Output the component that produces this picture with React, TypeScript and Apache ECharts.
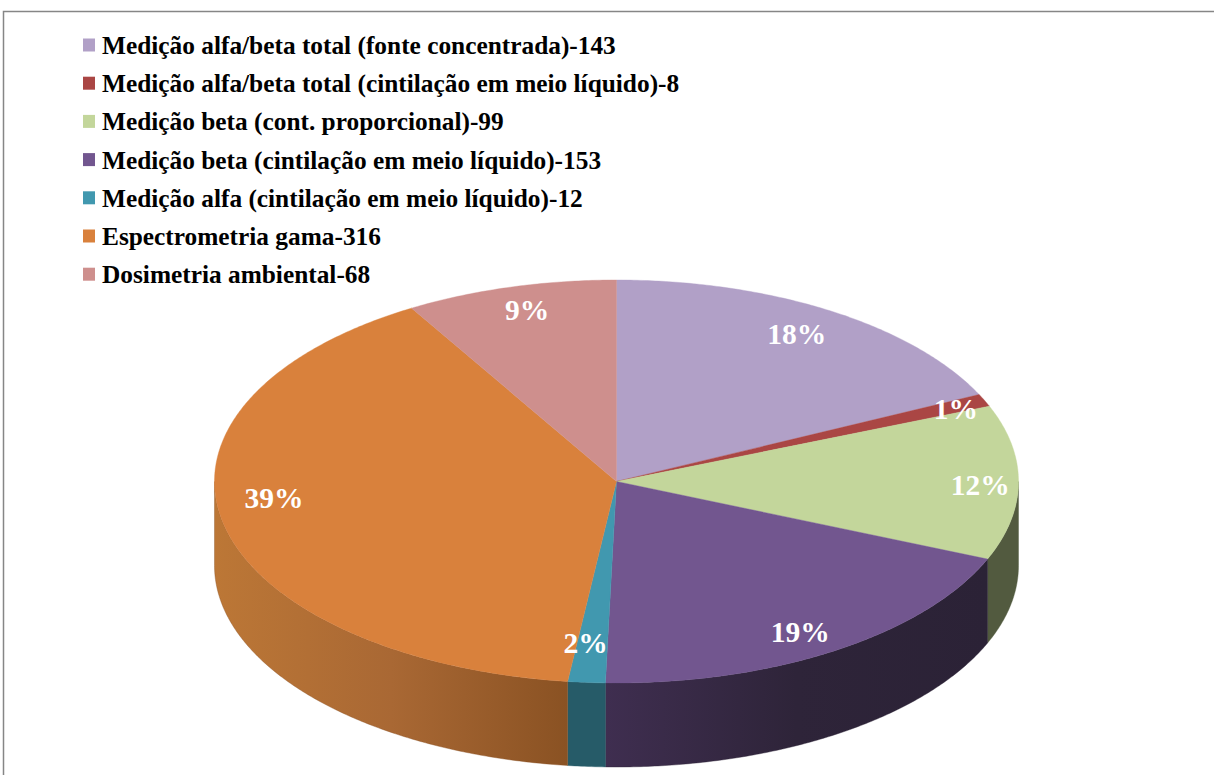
import React, { useEffect, useRef } from "react";
import * as echarts from "echarts";

const categories = [
  "Medição alfa/beta total (fonte concentrada)",
  "Medição alfa/beta total (cintilação em meio líquido)",
  "Medição beta (cont. proporcional)",
  "Medição beta (cintilação em meio líquido)",
  "Medição alfa (cintilação em meio líquido)",
  "Espectrometria gama",
  "Dosimetria ambiental",
];
const counts = [143, 8, 99, 153, 12, 316, 68];
const percentLabels = ["18%", "1%", "12%", "19%", "2%", "39%", "9%"];

const topColors = ["#B1A0C7", "#AA4644", "#C3D69B", "#72568F", "#4198AF", "#D9813C", "#CE8F8D"];
const wallStops: string[][] = [
  ["#B1A0C7", "#B1A0C7"],
  ["#AA4644", "#AA4644"],
  ["#525A3F", "#525A3F"],
  ["#3F2E50", "#2E2439", "#2B2236"],
  ["#265B68", "#265B68"],
  ["#BC7736", "#A96834", "#8A5223"],
  ["#CE8F8D", "#CE8F8D"],
];

// Disc geometry, in pixels: an ellipse seen from above, with a straight rim below it.
const CX = 616.5;
const CY = 481.5;
const RX = 402;
const RY = 201.5;
const DEPTH = 84;

// Radial factor and fine offsets for each percentage label.
const LABEL_RADIUS = 0.86;
const labelNudge: [number, number][] = [
  [-4, -1],
  [23, -3],
  [18, 2],
  [-4, 5],
  [-5, -11],
  [-4, -19],
  [2, -4],
];

const total = counts.reduce((a, b) => a + b, 0);
const starts: number[] = [];
counts.reduce((acc, v) => {
  starts.push(acc);
  return acc + v;
}, 0);

const toAngle = (v: number) => (v / total) * 360;

function rimPoint(deg: number, dy = 0): [number, number] {
  const r = (deg * Math.PI) / 180;
  return [CX + RX * Math.sin(r), CY - RY * Math.cos(r) + dy];
}

function arcPoints(from: number, to: number, dy = 0): [number, number][] {
  const steps = Math.max(2, Math.ceil((to - from) / 0.5));
  const pts: [number, number][] = [];
  for (let i = 0; i <= steps; i++) pts.push(rimPoint(from + ((to - from) * i) / steps, dy));
  return pts;
}

function renderSlice(index: number) {
  const from = toAngle(starts[index]);
  const to = toAngle(starts[index] + counts[index]);
  const children: any[] = [];

  // The rim is only visible on the near half of the disc.
  const wallFrom = Math.max(from, 90);
  const wallTo = Math.min(to, 270);
  if (wallTo > wallFrom) {
    const stops = wallStops[index];
    // Shading runs left to right across the rim of each slice.
    const colorStops = stops.map((color, i) => ({ offset: i / (stops.length - 1), color }));
    // Angles grow clockwise, so the near half runs right to left on screen.
    const fill = new echarts.graphic.LinearGradient(0, 0, 1, 0, colorStops);
    children.push({
      type: "polygon",
      z2: 1,
      shape: { points: [...arcPoints(wallFrom, wallTo), ...arcPoints(wallFrom, wallTo, DEPTH).reverse()] },
      style: { fill, stroke: stops[stops.length - 1], lineWidth: 0.4 },
    });
  }

  children.push({
    type: "polygon",
    z2: 2,
    shape: { points: [[CX, CY], ...arcPoints(from, to)] },
    style: { fill: topColors[index], stroke: topColors[index], lineWidth: 0.4 },
  });

  const mid = (((from + to) / 2) * Math.PI) / 180;
  children.push({
    type: "text",
    z2: 10,
    x: CX + LABEL_RADIUS * RX * Math.sin(mid) + labelNudge[index][0],
    y: CY - LABEL_RADIUS * RY * Math.cos(mid) + labelNudge[index][1],
    style: {
      text: percentLabels[index],
      fill: "#FFFFFF",
      font: 'bold 29.5px "Liberation Serif"',
      align: "center",
      verticalAlign: "middle",
    },
  });

  return { type: "group", children };
}

export default function App() {
  const ref = useRef<HTMLDivElement>(null);

  useEffect(() => {
    document.body.style.margin = "0";
    const chart = echarts.init(ref.current!, null, { renderer: "svg" });
    const names = categories.map((c, i) => `${c}-${counts[i]}`);
    chart.setOption({
      animation: false,
      backgroundColor: "#FFFFFF",
      legend: {
        orient: "vertical",
        left: 78,
        top: 25,
        icon: "rect",
        itemWidth: 12,
        itemHeight: 13,
        itemGap: 8.2,
        selectedMode: false,
        data: names.map((name, i) => ({ name, itemStyle: { color: topColors[i] } })),
        textStyle: {
          fontFamily: "Liberation Serif",
          fontWeight: "bold",
          fontSize: 25.35,
          lineHeight: 30,
          color: "#000000",
          padding: [0, 0, 0, 2],
        },
      },
      graphic: [
        {
          type: "polyline",
          silent: true,
          shape: { points: [[3.5, 780], [3.5, 11.5], [1220, 11.5]] },
          style: { stroke: "#868686", lineWidth: 1.5, fill: "none" },
        },
      ],
      series: names.map((name, i) => ({
        type: "custom",
        name,
        coordinateSystem: "none",
        silent: true,
        itemStyle: { color: topColors[i] },
        data: [counts[i]],
        renderItem: () => renderSlice(i),
      })),
    });
    return () => chart.dispose();
  }, []);

  return <div ref={ref} style={{ width: 1214, height: 775 }} />;
}
